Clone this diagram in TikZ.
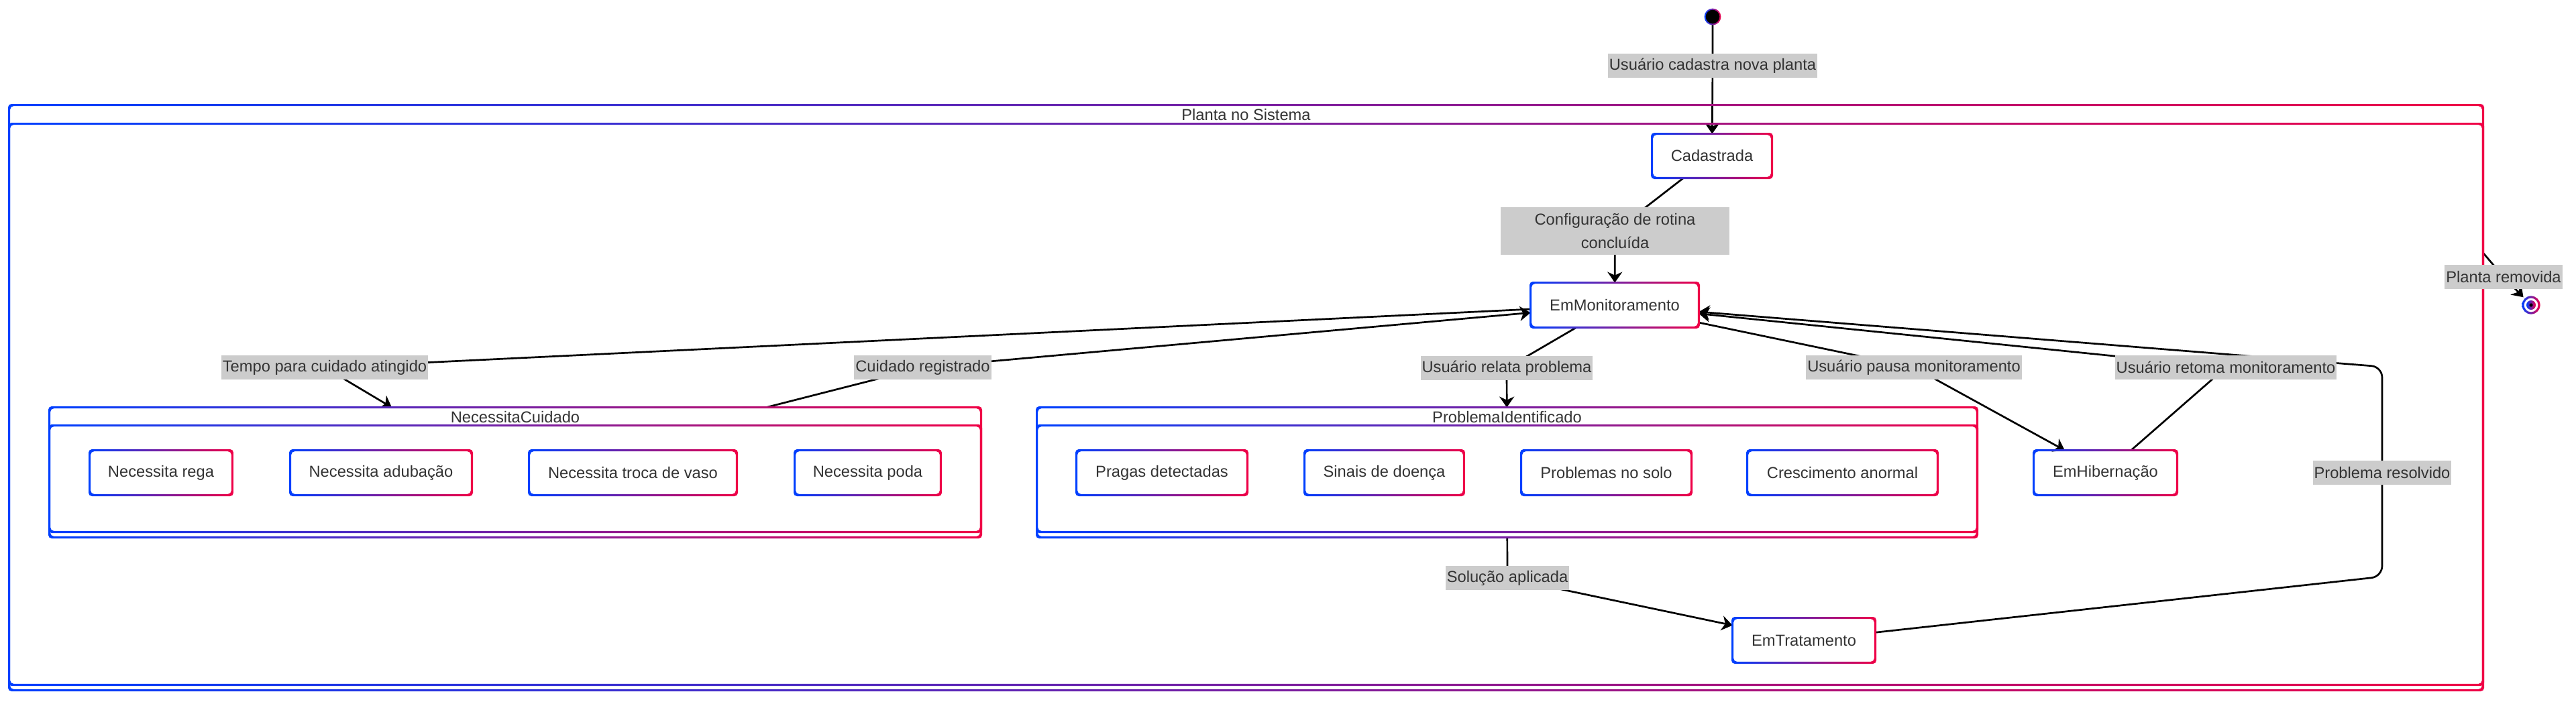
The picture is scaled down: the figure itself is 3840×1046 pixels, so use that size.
\documentclass[tikz,border=0pt]{standalone}
\usepackage{fontspec}
\setmainfont{Liberation Sans}
\usetikzlibrary{arrows.meta, backgrounds, positioning, shapes}
\definecolor{gblue}{RGB}{0,64,255}
\definecolor{gred}{RGB}{240,0,70}
\definecolor{lblgray}{RGB}{204,204,204}
\definecolor{txtgray}{RGB}{51,51,51}
\tikzset{
    stateN/.style={rectangle, minimum height=33pt, inner sep=0pt, text=txtgray,
        font=\fontsize{11.85}{17.8}\selectfont},
    compN/.style={rectangle, inner sep=0pt},
    titleN/.style={inner sep=0pt, text=txtgray, font=\fontsize{11.85}{17.8}\selectfont},
    lbl/.style={fill=lblgray, text=txtgray, minimum height=18pt, inner xsep=1pt, inner ysep=0pt,
        font=\fontsize{11.85}{17.8}\selectfont},
    trans/.style={draw=black, line width=1.35pt, -{Stealth[length=8pt, width=11pt, inset=2.5pt]}}
}
% gradient border between two corners
\newcommand\gradring[2]{%
    \shade[left color=gblue, right color=gred, even odd rule, rounded corners=2.5pt]
        ([shift={(-0.8pt,0.8pt)}]#1) rectangle ([shift={(0.8pt,-0.8pt)}]#2)
        ([shift={(0.8pt,-0.8pt)}]#1) rectangle ([shift={(-0.8pt,0.8pt)}]#2);}

\begin{document}
\begin{tikzpicture}[x=0.5pt, y=-0.5pt]
    \useasboundingbox (0,0) rectangle (3840,1046);

    % composite states
    \node[compN, minimum width=1843.5pt, minimum height=436pt] (planta) at (1857.5,593) {};
    \node[compN, minimum width=694pt, minimum height=96.5pt] (nc) at (768,704.5) {};
    \node[compN, minimum width=700.5pt, minimum height=96.5pt] (pi) at (2246.5,704.5) {};
    \coordinate (plantaA) at ([yshift=-14pt]planta.north west);
    \coordinate (plantaB) at ([yshift=4pt]planta.south east);
    \coordinate (ncA) at ([yshift=-13.5pt]nc.north west);
    \coordinate (ncB) at ([yshift=4pt]nc.south east);
    \coordinate (piA) at ([yshift=-13.5pt]pi.north west);
    \coordinate (piB) at ([yshift=4pt]pi.south east);
    \gradring{planta.north west}{planta.south east}
    \gradring{plantaA}{plantaB}
    \gradring{nc.north west}{nc.south east}
    \gradring{ncA}{ncB}
    \gradring{pi.north west}{pi.south east}
    \gradring{piA}{piB}
    \node[titleN] (plantaT) at (1857.5,171) {Planta no Sistema};
    \node[titleN] (ncT) at (768,622) {NecessitaCuidado};
    \node[titleN] (piT) at (2246.5,622) {ProblemaIdentificado};

    % simple states
    \node[stateN, minimum width=89pt, minimum height=32.5pt] (cad) at (2552,232.5) {Cadastrada};
    \node[stateN, minimum width=125pt] (mon) at (2407,455) {EmMonitoramento};
    \node[stateN, minimum width=106.5pt] (hib) at (3138.5,705) {EmHibernação};
    \node[stateN, minimum width=106pt] (trat) at (2689,955) {EmTratamento};
    \node[stateN, minimum width=106pt] (rega) at (240,705) {Necessita rega};
    \node[stateN, minimum width=135pt] (adub) at (568,705) {Necessita adubação};
    \node[stateN, minimum width=154.5pt] (vaso) at (943.5,705) {Necessita troca de vaso};
    \node[stateN, minimum width=108.5pt] (poda) at (1293.5,705) {Necessita poda};
    \node[stateN, minimum width=127pt] (prag) at (1732,705) {Pragas detectadas};
    \node[stateN, minimum width=118.5pt] (doen) at (2063.5,705) {Sinais de doença};
    \node[stateN, minimum width=126.5pt] (solo) at (2394.5,705) {Problemas no solo};
    \node[stateN, minimum width=141.5pt] (cresc) at (2746.5,705) {Crescimento anormal};
    \foreach \s in {cad, mon, hib, trat, rega, adub, vaso, poda, prag, doen, solo, cresc}
        \gradring{\s.north west}{\s.south east};

    % start and end
    \node[circle, fill=black, minimum size=11pt, inner sep=0pt] (ini) at (2553,25) {};
    \shade[left color=gblue, right color=gred, even odd rule] (ini) circle (6.2pt) (ini) circle (5.2pt);
    \node[circle, minimum size=16pt, inner sep=0pt] (fin) at (3773,455) {};
    \shade[left color=gblue, right color=gred, even odd rule] (fin) circle (6.8pt) (fin) circle (5.2pt);
    \shade[left color=gblue, right color=gred] (fin) circle (3.5pt);
    \fill[black] (fin) circle (1.3pt);

    % transition labels
    \node[lbl] (l1) at (2553,98) {Usuário cadastra nova planta};
    \node[lbl, align=center, minimum width=170.5pt, minimum height=35.5pt] (l2) at (2407.5,344.5)
        {Configuração de rotina\\concluída};
    \node[lbl] (l3) at (484,548) {Tempo para cuidado atingido};
    \node[lbl] (l4) at (1375.5,548) {Cuidado registrado};
    \node[lbl] (l5) at (2246,549) {Usuário relata problema};
    \node[lbl] (l6) at (2247,862) {Solução aplicada};
    \node[lbl] (l7) at (2853,548) {Usuário pausa monitoramento};
    \node[lbl] (l8) at (3318,548) {Usuário retoma monitoramento};
    \node[lbl] (l9) at (3551,705) {Problema resolvido};
    \node[lbl] (l10) at (3732,413) {Planta removida};
    \coordinate (c9a) at (3551,860);
    \coordinate (c9b) at (3551,547);

    \begin{pgfonlayer}{background}
    \draw[trans] (ini) -- (l1.center) -- (cad);
    \draw[trans] (cad) -- (l2.center) -- (mon);
    \draw[trans] (mon) -- (l3.center) -- ([xshift=-92pt]nc.north);
    \draw[trans] ([xshift=187pt]nc.north) -- (l4.center) -- (mon);
    \draw[trans] (mon) -- (l5.center) -- (pi);
    \draw[trans] (pi) -- (l6.center) -- (trat);
    \draw[trans] (mon) -- (l7.center) -- (hib);
    \draw[trans] (hib) -- (l8.center) -- (mon);
    \draw[trans, rounded corners=8pt] (trat) -- (c9a) -- (c9b) -- (mon);
    \draw[trans] ([yshift=108pt]planta.east) -- (l10.center) -- (fin);
    \end{pgfonlayer}
\end{tikzpicture}
\end{document}
